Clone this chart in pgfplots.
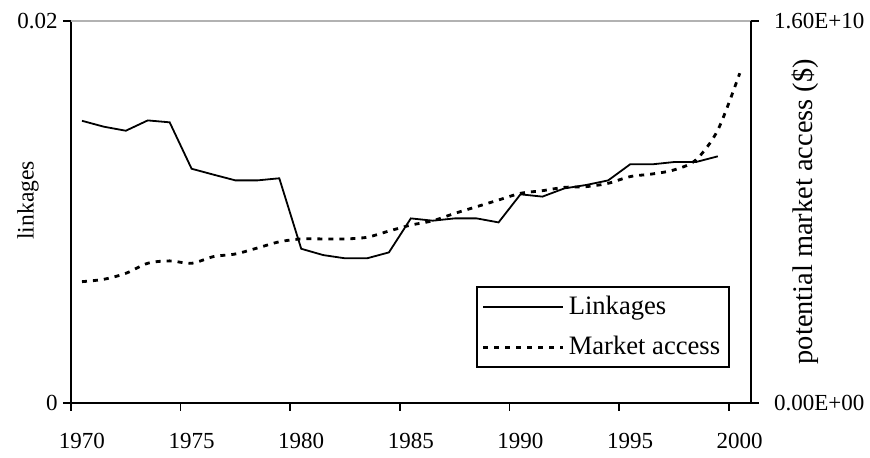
\documentclass[border=0pt]{standalone}
\usepackage{pgfplots}
\pgfplotsset{compat=1.18}
\usepackage{fontspec}
\setmainfont{Liberation Serif}
\begin{document}
\fontsize{12}{14}\selectfont
\begin{tikzpicture}[x=1pt,y=1pt]
\useasboundingbox (-35.5,-27.15) rectangle (399.5,201.35);
\begin{axis}[
  at={(0,0)}, anchor=south west,
  width=339.85pt, height=191pt, scale only axis,
  xmin=1969.5, xmax=2000.5, ymin=0, ymax=0.02,
  scaled ticks=false,
  /pgf/number format/assume math mode=true,
  axis x line*=bottom, axis y line*=left,
  axis line style={line width=0.8pt},
  every tick/.style={black, line width=0.8pt},
  tick align=outside,
  xtick={1970,1975,...,2000},
  xticklabels={1970,1975,1980,1985,1990,1995,2000},
  major x tick style={draw=none},
  minor xtick={1969.5,1974.5,1979.5,1984.5,1989.5,1994.5,1999.5},
  minor tick length=4pt, major tick length=4pt,
  ytick={0,0.02}, yticklabels={0,0.02},
  tick label style={font=\fontsize{11.5}{13}\selectfont},
  xticklabel style={yshift=-7pt},
  yticklabel style={xshift=1.5pt},
  ylabel={linkages},
  ylabel style={at={(axis description cs:-0.0633,0.53)}, anchor=center, font=\fontsize{11.8}{13}\selectfont},
  clip=false,
]
\draw[gray!60, line width=0.8pt] (rel axis cs:0,1) -- (rel axis cs:1,1);
\addplot[black, line width=0.9pt] coordinates {
(1970,0.01476) (1971,0.01445) (1972,0.01424) (1973,0.01478) (1974,0.01468)
(1975,0.01225) (1976,0.01194) (1977,0.01164) (1978,0.01164) (1979,0.01175)
(1980,0.00806) (1981,0.00773) (1982,0.00756) (1983,0.00756) (1984,0.00787)
(1985,0.00965) (1986,0.00953) (1987,0.00965) (1988,0.00965) (1989,0.00944)
(1990,0.01091) (1991,0.01079) (1992,0.01122) (1993,0.01140) (1994,0.01164)
(1995,0.01248) (1996,0.01248) (1997,0.01260) (1998,0.01260) (1999,0.01290)
};
\end{axis}
\begin{axis}[
  at={(0,0)}, anchor=south west,
  width=339.85pt, height=191pt, scale only axis,
  xmin=1969.5, xmax=2000.5, ymin=0, ymax=1.6e10,
  scaled ticks=false,
  /pgf/number format/assume math mode=true,
  axis x line=none, axis y line*=right,
  axis line style={line width=0.8pt},
  every tick/.style={black, line width=0.8pt},
  tick align=outside, major tick length=4pt,
  ytick={0,1.6e10}, yticklabels={0.00E+00,1.60E+10},
  tick label style={font=\fontsize{11.5}{13}\selectfont},
  yticklabel style={xshift=3.5pt},
  ylabel={potential market access (\$)},
  ylabel style={at={(axis description cs:1.0799,0.5)}, anchor=center, font=\fontsize{14.2}{16}\selectfont},
  legend style={at={(rel axis cs:0.9695,0.0908)}, anchor=south east, draw=black, line width=0.8pt,
    inner xsep=2.5pt, inner ysep=2.5pt, row sep=5pt, font=\fontsize{13.3}{15}\selectfont},
  legend cell align=left,
  legend image code/.code={\draw[#1] (0pt,0pt) -- (40pt,0pt);},
  clip=false,
]
\addlegendimage{black, line width=0.9pt}
\addlegendentry{Linkages}
\addplot[black, line width=1.4pt, dash pattern=on 2.5pt off 3pt, smooth] coordinates {
(1970,5.07e9) (1971,5.17e9) (1972,5.42e9) (1973,5.84e9) (1974,5.94e9)
(1975,5.84e9) (1976,6.12e9) (1977,6.23e9) (1978,6.48e9) (1979,6.74e9)
(1980,6.86e9) (1981,6.86e9) (1982,6.86e9) (1983,6.93e9) (1984,7.19e9)
(1985,7.44e9) (1986,7.62e9) (1987,7.93e9) (1988,8.21e9) (1989,8.49e9)
(1990,8.77e9) (1991,8.88e9) (1992,9.02e9) (1993,9.05e9) (1994,9.19e9)
(1995,9.47e9) (1996,9.58e9) (1997,9.75e9) (1998,10.17e9) (1999,11.42e9)
(2000,13.8e9)
};
\addlegendentry{Market access}
\end{axis}
\end{tikzpicture}
\end{document}
